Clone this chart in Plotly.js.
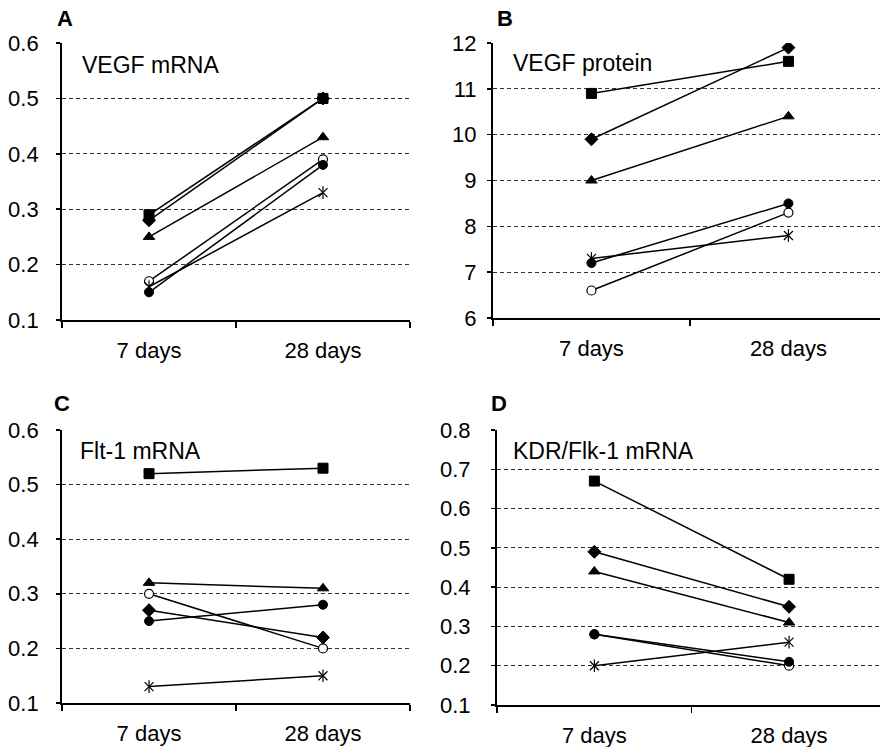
<!DOCTYPE html>
<html>
<head>
<meta charset="utf-8">
<script src="https://cdn.plot.ly/plotly-3.0.1.min.js"></script>
<style>html,body{margin:0;padding:0;background:#fff;}#chart{width:880px;height:747px;}</style>
</head>
<body>
<div id="chart"></div>
<script>
const timepoints = ["7 days", "28 days"];

// Panel A: VEGF mRNA
const vegfMrnaSquare = [0.29, 0.50];
const vegfMrnaDiamond = [0.28, 0.50];
const vegfMrnaTriangle = [0.25, 0.43];
const vegfMrnaOpenCircle = [0.17, 0.39];
const vegfMrnaFilledCircle = [0.15, 0.38];
const vegfMrnaAsterisk = [0.16, 0.33];

// Panel B: VEGF protein
const vegfProtSquare = [10.9, 11.6];
const vegfProtDiamond = [9.9, 11.9];
const vegfProtTriangle = [9.0, 10.4];
const vegfProtOpenCircle = [6.6, 8.3];
const vegfProtFilledCircle = [7.2, 8.5];
const vegfProtAsterisk = [7.3, 7.8];

// Panel C: Flt-1 mRNA
const fltSquare = [0.52, 0.53];
const fltDiamond = [0.27, 0.22];
const fltTriangle = [0.32, 0.31];
const fltOpenCircle = [0.30, 0.20];
const fltFilledCircle = [0.25, 0.28];
const fltAsterisk = [0.13, 0.15];

// Panel D: KDR/Flk-1 mRNA
const kdrSquare = [0.67, 0.42];
const kdrDiamond = [0.49, 0.35];
const kdrTriangle = [0.44, 0.31];
const kdrOpenCircle = [0.28, 0.20];
const kdrFilledCircle = [0.28, 0.21];
const kdrAsterisk = [0.20, 0.26];

const panelTitles = ["VEGF mRNA", "VEGF protein", "Flt-1 mRNA", "KDR/Flk-1 mRNA"];
const panelLetters = ["A", "B", "C", "D"];

const FONT = "Liberation Sans, Arial, Helvetica, sans-serif";

const panels = [
  {xa: "x", ya: "y", s: [vegfMrnaSquare, vegfMrnaDiamond, vegfMrnaTriangle, vegfMrnaOpenCircle, vegfMrnaFilledCircle, vegfMrnaAsterisk]},
  {xa: "x2", ya: "y2", s: [vegfProtSquare, vegfProtDiamond, vegfProtTriangle, vegfProtOpenCircle, vegfProtFilledCircle, vegfProtAsterisk]},
  {xa: "x3", ya: "y3", s: [fltSquare, fltDiamond, fltTriangle, fltOpenCircle, fltFilledCircle, fltAsterisk]},
  {xa: "x4", ya: "y4", s: [kdrSquare, kdrDiamond, kdrTriangle, kdrOpenCircle, kdrFilledCircle, kdrAsterisk]}
];

const styles = [
  {symbol: "square", size: 10, color: "#000", line: {color: "#000", width: 1}},
  {symbol: "diamond", size: 10, color: "#000", line: {color: "#000", width: 1}},
  {symbol: "triangle-up", size: 10, color: "#000", line: {color: "#000", width: 1}},
  {symbol: "circle", size: 9, color: "#fff", line: {color: "#000", width: 1.2}},
  {symbol: "circle", size: 9, color: "#000", line: {color: "#000", width: 1}},
  {symbol: "x-thin-open", size: 9, color: "#000", line: {color: "#000", width: 1.2}}
];

const traces = [];
panels.forEach(p => {
  p.s.forEach((vals, i) => {
    traces.push({
      type: "scatter", mode: "lines+markers",
      x: timepoints, y: vals, xaxis: p.xa, yaxis: p.ya,
      line: {color: "#000", width: 1.5},
      marker: styles[i], showlegend: false, hoverinfo: "y"
    });
    if (i === 5) {
      traces.push({
        type: "scatter", mode: "markers",
        x: timepoints, y: vals, xaxis: p.xa, yaxis: p.ya,
        marker: {symbol: "line-ns-open", size: 9, color: "#000", line: {color: "#000", width: 1.2}},
        showlegend: false, hoverinfo: "skip"
      });
    }
  });
});

function xaxis(domain, range, anchor) {
  return {
    domain: domain, anchor: anchor, type: "category", range: range,
    showline: true, linecolor: "#000", linewidth: 2,
    ticks: "outside", tickson: "boundaries", ticklen: 6, tickwidth: 1.5, tickcolor: "#000",
    ticklabelstandoff: 10,
    showgrid: false, zeroline: false,
    tickfont: {family: FONT, size: 22, color: "#000"}
  };
}
function yaxis(domain, range, dtick, fmt, anchor, standoff) {
  return {
    domain: domain, anchor: anchor, range: range, dtick: dtick, tick0: range[0],
    tickformat: fmt,
    showline: true, linecolor: "#000", linewidth: 2,
    ticks: "outside", ticklen: 4, tickwidth: 1.5, tickcolor: "#000",
    ticklabelstandoff: standoff,
    showgrid: true, gridcolor: "#333", griddash: "4px,3px", gridwidth: 1.2,
    zeroline: false,
    tickfont: {family: FONT, size: 22, color: "#000"}
  };
}

const layout = {
  width: 880, height: 747,
  margin: {l: 0, r: 0, t: 0, b: 0},
  paper_bgcolor: "#fff", plot_bgcolor: "#fff",
  showlegend: false,
  xaxis: xaxis([0.0705, 0.4659], [-0.5, 1.5], "y"),
  yaxis: yaxis([0.5716, 0.9424], [0.1, 0.6], 0.1, ".1f", "x", 13),
  xaxis2: xaxis([0.5602, 1.0], [-0.5, 1.465], "y2"),
  yaxis2: yaxis([0.5743, 0.9424], [6, 12], 1, "d", "x2", 6),
  xaxis3: xaxis([0.0705, 0.4659], [-0.5, 1.5], "y3"),
  yaxis3: yaxis([0.0589, 0.4244], [0.1, 0.6], 0.1, ".1f", "x3", 13),
  xaxis4: xaxis([0.5648, 1.0], [-0.5, 1.467], "y4"),
  yaxis4: yaxis([0.0562, 0.4244], [0.1, 0.8], 0.1, ".1f", "x4", 16),
  annotations: []
};

const letterPos = [[65, 19], [505, 19], [62, 404], [499, 404]];
const titlePos = [[80, 65], [511, 63], [78, 451], [511, 451]];
for (let i = 0; i < 4; i++) {
  layout.annotations.push({
    xref: "paper", yref: "paper",
    x: letterPos[i][0] / 880, y: 1 - letterPos[i][1] / 747,
    xanchor: "center", yanchor: "middle", showarrow: false,
    text: "<b>" + panelLetters[i] + "</b>",
    font: {family: FONT, size: 22, color: "#000"}
  });
  layout.annotations.push({
    xref: "paper", yref: "paper",
    x: titlePos[i][0] / 880, y: 1 - titlePos[i][1] / 747,
    xanchor: "left", yanchor: "middle", showarrow: false,
    text: panelTitles[i],
    font: {family: FONT, size: 23, color: "#000"}
  });
}

Plotly.newPlot("chart", traces, layout, {staticPlot: true, displayModeBar: false});
</script>
</body>
</html>
